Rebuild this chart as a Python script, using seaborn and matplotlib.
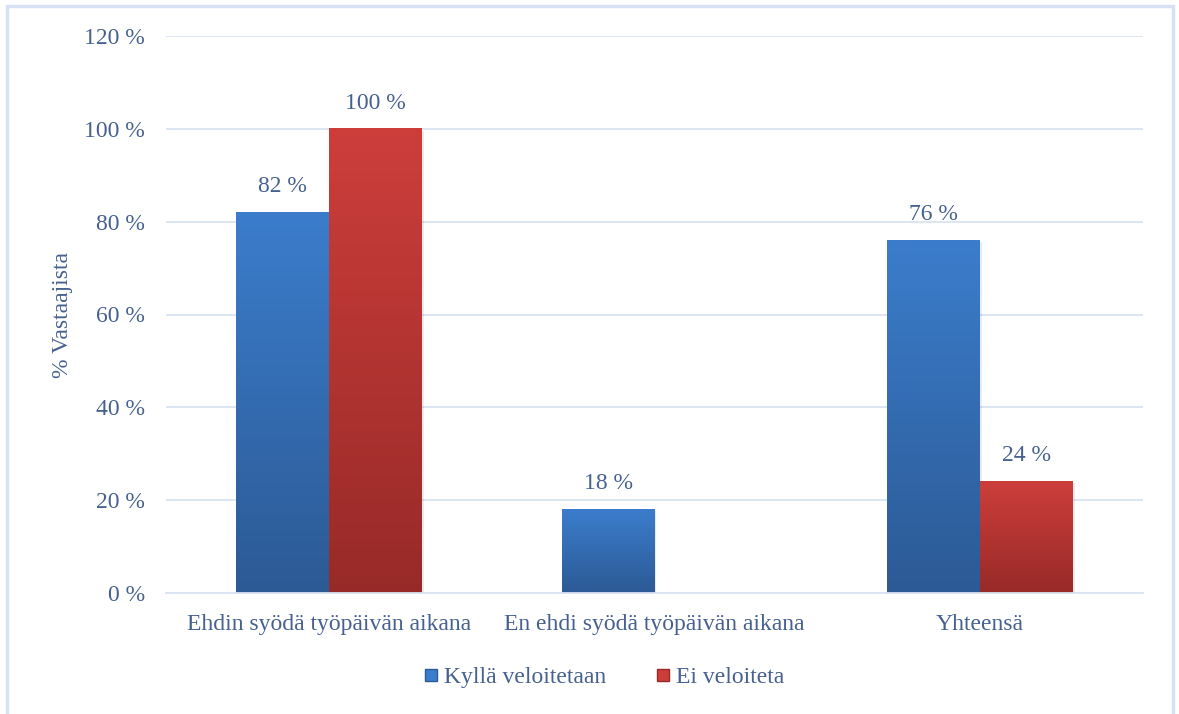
import numpy as np
import pandas as pd
import seaborn as sns
import matplotlib.pyplot as plt
from matplotlib.colors import LinearSegmentedColormap
from matplotlib.patches import Rectangle
from matplotlib.lines import Line2D

categories = ["Ehdin syödä työpäivän aikana", "En ehdi syödä työpäivän aikana", "Yhteensä"]
series = ["Kyllä veloitetaan", "Ei veloiteta"]
kylla = [82, 18, 76]
ei = [100, np.nan, 24]
yticks = [0, 20, 40, 60, 80, 100, 120]

text_color = "#46618f"
grid_color = "#d9e3f1"
top_colors = {"Kyllä veloitetaan": "#3b7dcc", "Ei veloiteta": "#cd3e3b"}
bottom_colors = {"Kyllä veloitetaan": "#2c5a95", "Ei veloiteta": "#972a28"}
fs = 17

df = pd.DataFrame({
    "kategoria": categories * 2,
    "sarja": [series[0]] * 3 + [series[1]] * 3,
    "arvo": kylla + ei,
})

sns.set_style("white")
plt.rcParams["font.family"] = ["Liberation Serif", "DejaVu Serif"]

fig = plt.figure(figsize=(11.79, 7.14), dpi=100)
ax = fig.add_axes([166 / 1179, 1 - 593 / 714, 977 / 1179, 557 / 714])

sns.barplot(
    data=df, x="kategoria", y="arvo", hue="sarja", hue_order=series,
    palette=top_colors, width=0.57, gap=0, ax=ax, legend=False, errorbar=None,
)

# gradient fill on each bar
grad = np.linspace(0, 1, 256).reshape(-1, 1)
for cont, name in zip(ax.containers, series):
    cmap = LinearSegmentedColormap.from_list(name, [bottom_colors[name], top_colors[name]])
    for bar in cont:
        h = bar.get_height()
        bar.set_visible(False)
        if np.isnan(h) or h == 0:
            continue
        x0, y0, w = bar.get_x(), bar.get_y(), bar.get_width()
        # soft shadow
        ax.add_patch(Rectangle((x0 + 0.006, y0 - 0.4), w, h, facecolor="#000000",
                               alpha=0.08, zorder=1.5, linewidth=0))
        ax.imshow(grad, extent=[x0, x0 + w, y0, y0 + h], origin="lower",
                  aspect="auto", cmap=cmap, zorder=2)
        ax.text(x0 + w / 2, h + 3.3, f"{h:.0f} %", ha="center", va="bottom",
                fontsize=fs, color=text_color)

ax.set_xlim(-0.5, 2.5)
ax.set_ylim(0, 120)
ax.set_yticks(yticks)
ax.set_yticklabels([f"{t} %" for t in yticks])
ax.yaxis.grid(True, color=grid_color, linewidth=1.3)
ax.set_axisbelow(True)
for s in ["top", "right", "left"]:
    ax.spines[s].set_visible(False)
ax.spines["bottom"].set_color(grid_color)
ax.spines["bottom"].set_linewidth(1.3)
ax.tick_params(axis="both", length=0, labelsize=fs, colors=text_color)
ax.tick_params(axis="y", pad=15)
ax.tick_params(axis="x", pad=15)
ax.set_xlabel("")
ax.set_ylabel("% Vastaajista", fontsize=fs, color=text_color, labelpad=8)

handles = [Line2D([], [], marker="s", linestyle="", markersize=9,
                  markerfacecolor=top_colors[s], markeredgecolor=bottom_colors[s])
           for s in series]
fig.legend(handles, series, loc="center", bbox_to_anchor=(596 / 1179, 1 - 677 / 714),
           ncol=2, frameon=False, fontsize=fs, labelcolor=text_color,
           handletextpad=-0.45, columnspacing=1.4)

# outer chart frame
fig.patches.append(Rectangle((7 / 1179, -0.05), 1166 / 1179, 1.05 - 6 / 714,
                             transform=fig.transFigure, fill=False,
                             edgecolor="#d6e2f4", linewidth=2.5))

fig.savefig("out.png", dpi=100)
